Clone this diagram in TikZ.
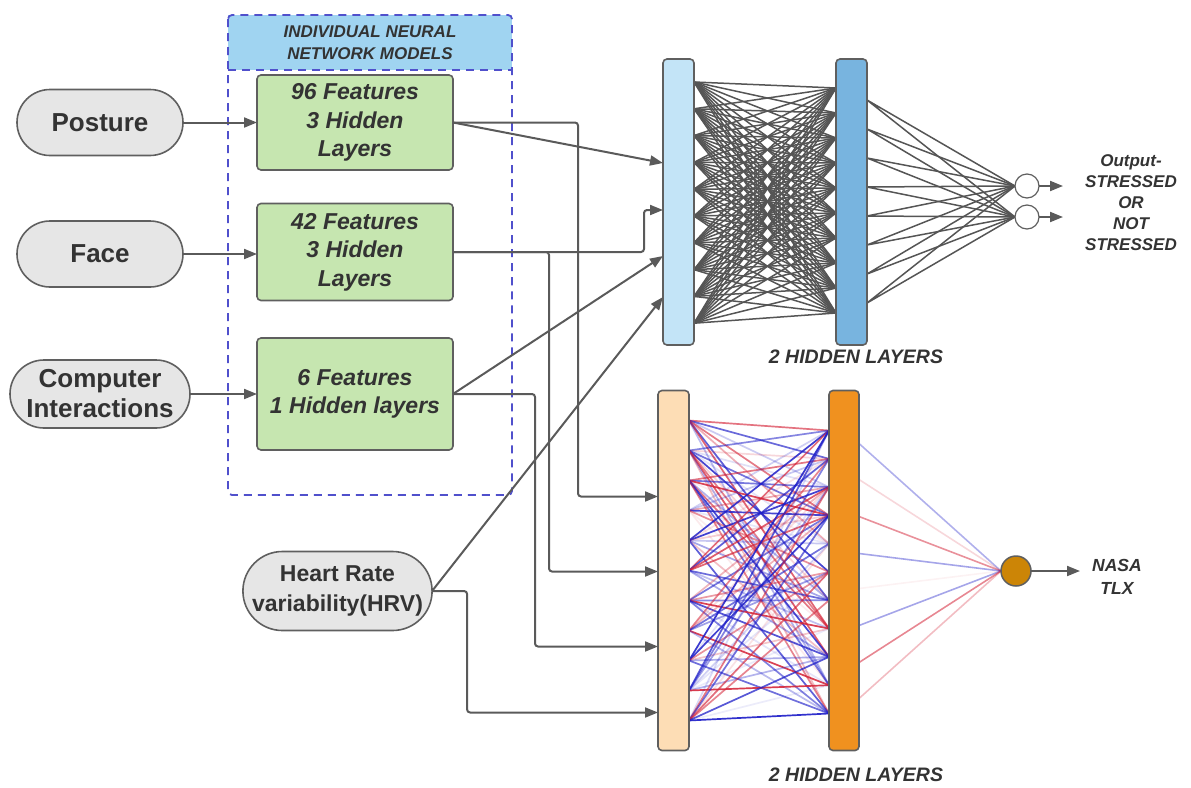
\documentclass[tikz,border=0pt]{standalone}
\usepackage{fontspec}
\setmainfont{Liberation Sans}
\usetikzlibrary{arrows.meta,calc,shapes.misc,backgrounds}
\definecolor{txtgray}{HTML}{333333}
\definecolor{edgegray}{HTML}{5F5F5F}
\definecolor{linegray}{HTML}{5A5A5A}
\definecolor{meshgray}{HTML}{555555}
\definecolor{pillgray}{HTML}{E6E6E6}
\definecolor{modelgreen}{HTML}{C6E6B0}
\definecolor{hdrblue}{HTML}{A0D4F1}
\definecolor{dashblue}{HTML}{5050CC}
\definecolor{barlblue}{HTML}{C3E4F7}
\definecolor{bardblue}{HTML}{78B4DF}
\definecolor{barlorange}{HTML}{FDDDB5}
\definecolor{barorange}{HTML}{F0911F}
\definecolor{nodebrown}{HTML}{CC8506}
\definecolor{netred}{HTML}{D42438}
\definecolor{netblue}{HTML}{1E1EC8}

\begin{document}
\begin{tikzpicture}[x=1pt,y=-1pt]
\tikzstyle{every node}+=[inner sep=0pt, outer sep=0pt, text=txtgray]
\tikzstyle{pill}=[rounded rectangle, draw=edgegray, line width=1.6pt, fill=pillgray, font=\fontsize{26}{30}\selectfont\bfseries, align=center, minimum height=66pt]
\tikzstyle{model}=[rectangle, rounded corners=4pt, draw=edgegray, line width=1.6pt, fill=modelgreen, minimum width=196pt, font=\fontsize{23}{28.5}\selectfont\bfseries\itshape, align=center]
\tikzstyle{bar}=[rectangle, rounded corners=4pt, draw=edgegray, line width=1.6pt, minimum width=31pt]
\tikzstyle{conn}=[draw=linegray, line width=2pt, -{Triangle[length=13pt,width=10pt]}, rounded corners=3pt]
\tikzstyle{mesh}=[draw=meshgray, line width=1.5pt]
\tikzstyle{frame}=[draw=dashblue, line width=1.8pt, dash pattern=on 8pt off 6pt]
\tikzstyle{lbl}=[font=\fontsize{17}{21}\selectfont\bfseries\itshape, align=center]
\useasboundingbox (0,0) rectangle (1191,787);

% inputs
\node[pill, minimum width=166pt] (posture) at (100,122.5) {Posture};
\node[pill, minimum width=166pt] (face) at (100,254) {Face};
\node[pill, minimum width=180pt, minimum height=68pt] (comp) at (100,394) {Computer\\Interactions};
\node[pill, minimum width=189pt, minimum height=79pt, font=\fontsize{23}{30}\selectfont\bfseries] (hrv) at (337.5,591) {Heart Rate\\variability(HRV)};

% individual models
\node[fill=hdrblue, minimum width=284pt, minimum height=55pt, font=\fontsize{17}{22}\selectfont\bfseries\itshape, align=center] (hdr) at (370,42.5) {INDIVIDUAL NEURAL\\NETWORK MODELS};
\draw[frame, rounded corners=4pt] (hdr.north west) rectangle ++(284,480);
\draw[frame] (hdr.south west) -- (hdr.south east);
\node[model, minimum height=95pt] (m96) at (355,122.5) {96 Features\\3 Hidden\\Layers};
\node[model, minimum height=97pt] (m42) at (355,252) {42 Features\\3 Hidden\\Layers};
\node[model, minimum height=112pt] (m6) at (355,394) {6 Features\\1 Hidden layers};

% layers
\node[bar, fill=barlblue, minimum height=286pt] (lb) at (678.5,202) {};
\node[bar, fill=bardblue, minimum height=286pt] (db) at (851.5,202) {};
\node[bar, fill=barlorange, minimum height=360pt] (lo) at (673.5,570.5) {};
\node[bar, fill=barorange, minimum height=360pt, minimum width=30pt] (do) at (844,570.5) {};
\node[circle, draw=edgegray, fill=white, line width=1.2pt, minimum size=24pt] (o1) at (1027,186) {};
\node[circle, draw=edgegray, fill=white, line width=1.2pt, minimum size=24pt] (o2) at (1027,217) {};
\node[circle, draw=edgegray, fill=nodebrown, line width=1.5pt, minimum size=30pt] (no) at (1016,571) {};

\node[lbl] (outlbl) at (1131,203) {Output-\\STRESSED\\OR\\NOT\\STRESSED};
\node[lbl, font=\fontsize{19.5}{23}\selectfont\bfseries\itshape] (hl1) at (856,357) {2 HIDDEN LAYERS};
\node[lbl, font=\fontsize{19.5}{23}\selectfont\bfseries\itshape] (hl2) at (856,775) {2 HIDDEN LAYERS};
\node[lbl, font=\fontsize{17.5}{23}\selectfont\bfseries\itshape] (nasa) at (1117,577) {NASA\\TLX};

\begin{scope}[on background layer]
\foreach \a in {0,...,9}
  \foreach \b in {0,...,9}
    \draw[mesh] ($(lb.north east)+(0,23+26.8*\a)$) -- ($(db.north west)+(0,29+25*\b)$);
\foreach \a in {41,70,99,128,157,186,215,244}
  \draw[mesh] ($(db.north east)+(0,\a)$) -- (o1.west) ($(db.north east)+(0,\a)$) -- (o2.west);
\pgfmathsetseed{11}
\foreach \a in {0,...,10}{
  \foreach \b in {0,...,10}{
    \pgfmathsetmacro{\op}{0.08+0.85*rnd}
    \pgfmathtruncatemacro{\c}{round(rnd)}
    \pgfmathtruncatemacro{\k}{rnd<0.7}
    \ifnum\k=1
      \ifnum\c=1 \def\col{netred}\else\def\col{netblue}\fi
      \draw[line width=1.7pt, draw=\col, draw opacity=\op] ($(lo.north east)+(0,30+30*\a)$) -- ($(do.north west)+(0,40+28.3*\b)$);
    \fi
  }
}
\foreach \a/\c/\o in {53/netblue/0.35, 89/netred/0.18, 126/netred/0.5, 163/netblue/0.4, 198/netred/0.06, 235/netblue/0.4, 272/netred/0.55, 308/netred/0.3}
  \draw[line width=1.6pt, draw=\c, draw opacity=\o] ($(do.north east)+(0,\a)$) -- (no.west);
\end{scope}

% connectors
\draw[conn] (posture.east) -- (posture.east -| m96.west);
\draw[conn] (face.east) -- (face.east -| m42.west);
\draw[conn] (comp.east) -- (comp.east -| m6.west);
\draw[conn] (m96.east) -- ($(lb.north west)+(0,104)$);
\draw[conn] (m96.east) -- ++(125,0) |- ($(lo.north west)+(0,106)$);
\draw[conn] (m42.east) -- ++(191,0) |- ($(lb.north west)+(0,151)$);
\draw[conn] (m42.east) -- ++(96,0) |- ($(lo.north west)+(0,181)$);
\draw[conn] (m6.east) -- ($(lb.north west)+(0,197)$);
\draw[conn] (m6.east) -- ++(82,0) |- ($(lo.north west)+(0,256)$);
\draw[conn] (hrv.east) -- ($(lb.north west)+(0,238)$);
\draw[conn] (hrv.east) -- ++(35,0) |- ($(lo.north west)+(0,322)$);

\coordinate (o1end) at (1063,186);
\coordinate (o2end) at (1063,217);
\coordinate (noend) at (1080,571);
\draw[conn] (o1.east) -- (o1end);
\draw[conn] (o2.east) -- (o2end);
\draw[conn] (no.east) -- (noend);
\end{tikzpicture}
\end{document}
